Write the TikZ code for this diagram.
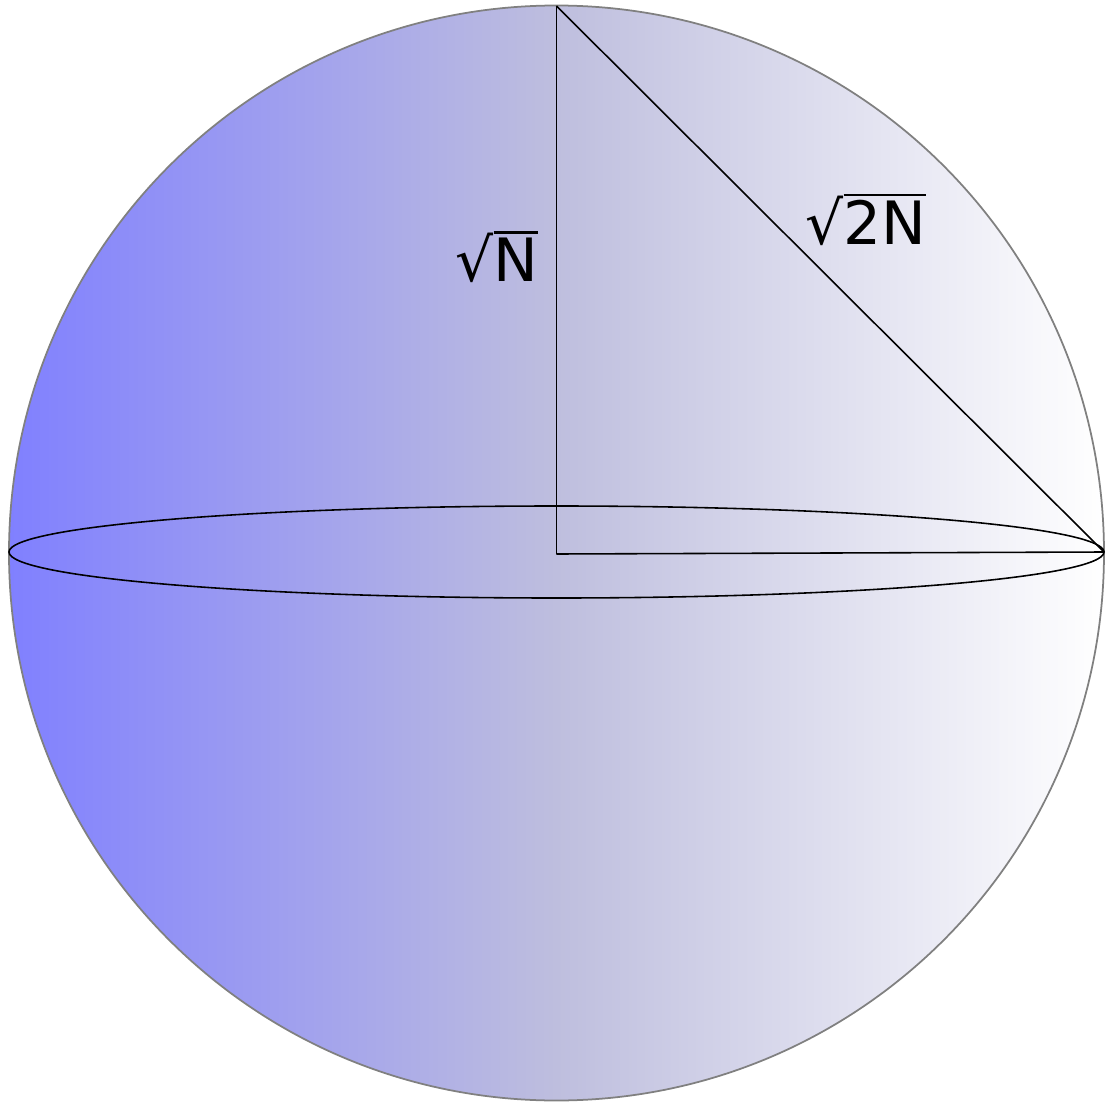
\documentclass[tikz,border=0pt]{standalone}
\usepackage{fontspec}
\setmainfont{DejaVu Sans}
\usetikzlibrary{positioning}

\definecolor{ballleft}{RGB}{128,128,255}
\definecolor{ballmid}{RGB}{190,190,222}
\newcommand{\rootof}[1]{√\vbox{\hrule height 0.6pt \kern 1.2pt \hbox{#1}}}
\tikzset{
    leg/.style={black, line width=0.45pt},
    lbl/.style={inner sep=0pt, font=\fontsize{17}{20}\selectfont},
}

\begin{document}
\begin{tikzpicture}
        \useasboundingbox (-5.565,-5.49) rectangle (5.485,5.53);
        \shade[left color=ballleft, right color=white, middle color=ballmid]
            (0,0) circle (5.475);
        \draw[gray, line width=0.5pt] (0,0) circle (5.475);

        \coordinate (top) at (0,5.47);
        \coordinate (foot) at (0,-0.01);
        \coordinate (rim) at (5.475,0.01);

        \draw[leg] (0,0.01) ellipse (5.475 and 0.46);
        \draw[leg] (top) -- (foot);
        \draw[leg] (foot) -- (rim);
        \draw[leg] (top) -- (rim);

        \node[lbl] (short) at (-0.595,2.96) {\rootof{N}};
        \node[lbl] (long) at (3.095,3.33) {\rootof{2N}};
\end{tikzpicture}
\end{document}
